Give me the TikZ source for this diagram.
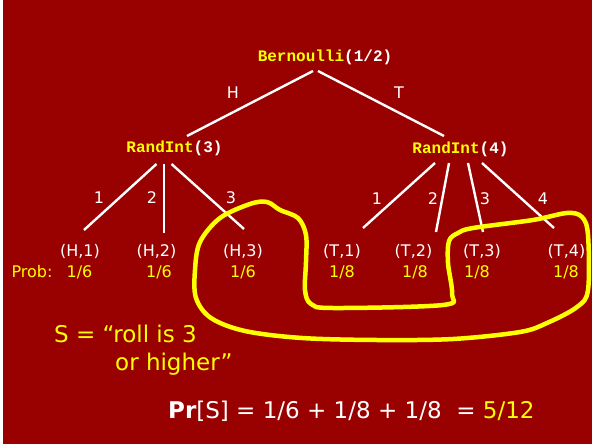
\documentclass[tikz,border=0pt]{standalone}
\usepackage{fontspec}
\setmainfont{DejaVu Sans}
\newfontfamily\courfont{Liberation Mono}
\definecolor{bgred}{RGB}{153,0,0}
\definecolor{hiyel}{RGB}{255,255,0}
\begin{document}
\begin{tikzpicture}[x=1pt,y=-1pt,
  edge/.style={draw=white,line width=2.4pt},
  fn/.style={inner sep=0pt,font=\courfont\bfseries\fontsize{16}{18}\selectfont,text=white},
  lbl/.style={inner sep=0pt,font=\fontsize{16}{19}\selectfont,text=white},
  prob/.style={inner sep=0pt,font=\fontsize{16}{19}\selectfont,text=hiyel},
  big/.style={inner sep=0pt,font=\fontsize{23}{27}\selectfont},
  loop/.style={draw=hiyel,line width=4.5pt,line join=round}]
\fill[white] (0,0) rectangle (592,444);
\fill[bgred] (3,0) rectangle (592,444);
\useasboundingbox (0,0) rectangle (592,444);

% function nodes
\node[fn] (bern) at (325,57) {\textcolor{hiyel}{Bernoulli}(1/2)};
\node[fn] (r3) at (174.5,148) {\textcolor{hiyel}{RandInt}(3)};
\node[fn] (r4) at (460.5,149) {\textcolor{hiyel}{RandInt}(4)};

% leaves
\node[lbl] (h1) at (80,251) {(H,1)};
\node[lbl] (h2) at (156.5,251) {(H,2)};
\node[lbl] (h3) at (243,251) {(H,3)};
\node[lbl] (t1) at (342,251) {(T,1)};
\node[lbl] (t2) at (413.5,251) {(T,2)};
\node[lbl] (t3) at (482,251) {(T,3)};
\node[lbl] (t4) at (566.5,251) {(T,4)};

\node[prob] (pl) at (32,272) {Prob:};
\node[prob] (p1) at (79.5,272) {1/6};
\node[prob] (p2) at (159,272) {1/6};
\node[prob] (p3) at (243,272) {1/6};
\node[prob] (p4) at (342,272) {1/8};
\node[prob] (p5) at (415,272) {1/8};
\node[prob] (p6) at (477,272) {1/8};
\node[prob] (p7) at (566,272) {1/8};

% edges
\draw[edge] ([shift={(-12,14)}]bern.center) -- ([shift={(12.5,-12)}]r3.center);
\draw[edge] ([shift={(-7,14)}]bern.center) -- ([shift={(-16.5,-13)}]r4.center);
\draw[edge] ([shift={(-18,16)}]r3.center) -- ([shift={(4,-21)}]h1.center);
\draw[edge] ([shift={(-10.5,16)}]r3.center) -- ([shift={(7.5,-18)}]h2.center);
\draw[edge] ([shift={(-3,16)}]r3.center) -- ([shift={(1,-22)}]h3.center);
\draw[edge] ([shift={(-25.5,14)}]r4.center) -- ([shift={(21,-23)}]t1.center);
\draw[edge] ([shift={(-11.5,14)}]r4.center) -- ([shift={(22.5,-19)}]t2.center);
\draw[edge] ([shift={(7.5,14)}]r4.center) -- ([shift={(1,-19)}]t3.center);
\draw[edge] ([shift={(21.5,14)}]r4.center) -- ([shift={(-12.5,-23)}]t4.center);

% edge labels
\node[lbl] (lH) at (233,93) {H};
\node[lbl] (lT) at (399,93) {T};
\node[lbl] (a1) at (99,198) {1};
\node[lbl] (a2) at (152,198) {2};
\node[lbl] (a3) at (231,198) {3};
\node[lbl] (b1) at (377,199) {1};
\node[lbl] (b2) at (433,199) {2};
\node[lbl] (b3) at (485,199) {3};
\node[lbl] (b4) at (543,199) {4};

% the event loop
\draw[loop] plot[smooth cycle,tension=0.55] coordinates {
 (533,220) (567,213) (582,217) (588,235) (588,290) (577,307) (547,323)
 (520,332) (453,339) (377,340) (302,338) (245,331) (211,318) (196,298)
 (195,270) (200,242) (220,218) (250,204) (267,202) (280,210) (298,218)
 (306,235) (306,262) (305,290) (311,304) (333,308) (443,305) (452,294)
 (448,263) (449,241) (458,233) (473,228)};

% text
\node[big,anchor=base west,text=hiyel] (s1) at (54,342) {S = “roll is 3};
\node[big,anchor=base west,text=hiyel] (s2) at (115,370) {or higher”};
\node[big,anchor=base west,text=white] (pr) at (168,418) {\textbf{Pr}[S] = 1/6 + 1/8 + 1/8\ \ = \textcolor{hiyel}{5/12}};
\end{tikzpicture}
\end{document}
